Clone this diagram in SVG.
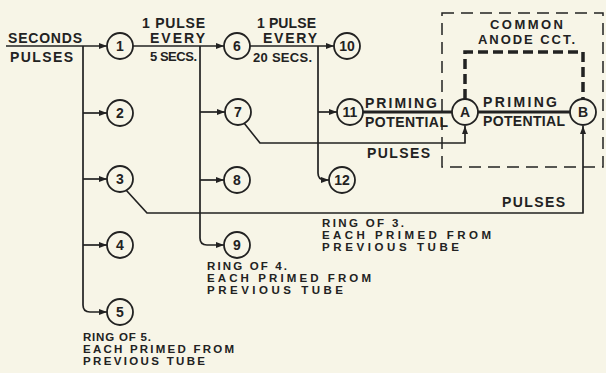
<svg xmlns="http://www.w3.org/2000/svg" width="606" height="373" viewBox="0 0 606 373">
<style>
.bg{fill:#f7f5e7}
.ln{fill:none;stroke:#222;stroke-width:1.7;stroke-linejoin:round}
.thick{fill:none;stroke:#222;stroke-width:3}
.tube{fill:#f7f5e7;stroke:#222;stroke-width:1.8}
.num{font-family:"Liberation Sans","DejaVu Sans",sans-serif;font-weight:bold;font-size:14px;fill:#222;text-anchor:middle}
.lbl{font-family:"Liberation Sans","DejaVu Sans",sans-serif;font-weight:bold;font-size:14px;fill:#222}
.md{font-size:13px}
.sm{font-size:11.5px}
.dash{fill:none;stroke:#222;stroke-width:1.5;stroke-dasharray:12 7}
.dashthick{fill:none;stroke:#222;stroke-width:3.5;stroke-dasharray:10 5}
</style>
<defs>
<marker id="arr" markerUnits="userSpaceOnUse" markerWidth="8" markerHeight="6" refX="8" refY="3" orient="auto">
<path d="M0,0 L8,3 L0,6 z" fill="#222"/>
</marker>
</defs>
<rect class="bg" x="0" y="0" width="606" height="373"/>

<g id="anode-box">
<rect class="dash" x="442" y="13" width="161" height="154"/>
<path class="dashthick" d="M465,99 V52 H583 V99"/>
<text class="lbl md" x="490" y="29" textLength="73" lengthAdjust="spacing">COMMON</text>
<text class="lbl md" x="478" y="44" textLength="97" lengthAdjust="spacing">ANODE CCT.</text>
</g>

<g id="connectors">
<path class="ln" d="M6,46 H107" marker-end="url(#arr)"/>
<path class="ln" d="M83,46 V305 Q83,312 90,312 H107" marker-end="url(#arr)"/>
<path class="ln" d="M83,113 H107" marker-end="url(#arr)"/>
<path class="ln" d="M83,179 H107" marker-end="url(#arr)"/>
<path class="ln" d="M83,245 H107" marker-end="url(#arr)"/>
<path class="ln" d="M133,46 H224" marker-end="url(#arr)"/>
<path class="ln" d="M200,46 V238 Q200,245 207,245 H224" marker-end="url(#arr)"/>
<path class="ln" d="M200,112 H225" marker-end="url(#arr)"/>
<path class="ln" d="M200,180 H224" marker-end="url(#arr)"/>
<path class="ln" d="M250,46 H334" marker-end="url(#arr)"/>
<path class="ln" d="M318,46 V173 Q318,180 325,180 H329" marker-end="url(#arr)"/>
<path class="ln" d="M318,112 H337" marker-end="url(#arr)"/>
<path class="thick" d="M363,112 H452"/>
<path class="thick" d="M478,112 H570"/>
<path class="ln" d="M244,123 L260,143 H465 V126" marker-end="url(#arr)"/>
<path class="ln" d="M126,190 L147,213 H583 V126" marker-end="url(#arr)"/>
</g>

<g id="labels">
<text class="lbl" x="8" y="43" textLength="74" lengthAdjust="spacing">SECONDS</text>
<text class="lbl" x="10" y="62" textLength="63" lengthAdjust="spacing">PULSES</text>
<text class="lbl" x="142" y="28" textLength="63" lengthAdjust="spacing">1 PULSE</text>
<text class="lbl" x="150" y="43" textLength="55" lengthAdjust="spacing">EVERY</text>
<text class="lbl md" x="150" y="61" textLength="47" lengthAdjust="spacing">5 SECS.</text>
<text class="lbl" x="257" y="28" textLength="59" lengthAdjust="spacing">1 PULSE</text>
<text class="lbl" x="263" y="43" textLength="54" lengthAdjust="spacing">EVERY</text>
<text class="lbl md" x="253" y="62" textLength="59" lengthAdjust="spacing">20 SECS.</text>
<text class="lbl" x="365" y="108" textLength="72" lengthAdjust="spacing">PRIMING</text>
<text class="lbl" x="365" y="127" textLength="83" lengthAdjust="spacing">POTENTIAL</text>
<text class="lbl" x="367" y="158" textLength="63" lengthAdjust="spacing">PULSES</text>
<text class="lbl" x="483" y="107" textLength="74" lengthAdjust="spacing">PRIMING</text>
<text class="lbl" x="483" y="126" textLength="82" lengthAdjust="spacing">POTENTIAL</text>
<text class="lbl" x="502" y="207" textLength="63" lengthAdjust="spacing">PULSES</text>
<text class="lbl sm" x="322" y="227" textLength="82" lengthAdjust="spacing">RING OF 3.</text>
<text class="lbl sm" x="322" y="239" textLength="169" lengthAdjust="spacing">EACH PRIMED FROM</text>
<text class="lbl sm" x="322" y="251" textLength="137" lengthAdjust="spacing">PREVIOUS TUBE</text>
<text class="lbl sm" x="207" y="270" textLength="80" lengthAdjust="spacing">RING OF 4.</text>
<text class="lbl sm" x="207" y="282" textLength="164" lengthAdjust="spacing">EACH PRIMED FROM</text>
<text class="lbl sm" x="207" y="294" textLength="136" lengthAdjust="spacing">PREVIOUS TUBE</text>
<text class="lbl sm" x="83" y="341" textLength="68" lengthAdjust="spacing">RING OF 5.</text>
<text class="lbl sm" x="83" y="353" textLength="151" lengthAdjust="spacing">EACH PRIMED FROM</text>
<text class="lbl sm" x="83" y="365" textLength="122" lengthAdjust="spacing">PREVIOUS TUBE</text>
</g>

<g id="tube-1"><circle class="tube" cx="120" cy="46" r="13"/><text class="num" x="120" y="51">1</text></g>
<g id="tube-2"><circle class="tube" cx="120" cy="113" r="13"/><text class="num" x="120" y="118">2</text></g>
<g id="tube-3"><circle class="tube" cx="120" cy="179" r="13"/><text class="num" x="120" y="184">3</text></g>
<g id="tube-4"><circle class="tube" cx="120" cy="245" r="13"/><text class="num" x="120" y="250">4</text></g>
<g id="tube-5"><circle class="tube" cx="120" cy="312" r="13"/><text class="num" x="120" y="317">5</text></g>
<g id="tube-6"><circle class="tube" cx="237" cy="46" r="13"/><text class="num" x="237" y="51">6</text></g>
<g id="tube-7"><circle class="tube" cx="238" cy="112" r="13"/><text class="num" x="238" y="117">7</text></g>
<g id="tube-8"><circle class="tube" cx="237" cy="180" r="13"/><text class="num" x="237" y="185">8</text></g>
<g id="tube-9"><circle class="tube" cx="237" cy="245" r="13"/><text class="num" x="237" y="250">9</text></g>
<g id="tube-10"><circle class="tube" cx="347" cy="46" r="13"/><text class="num" x="347" y="51">10</text></g>
<g id="tube-11"><circle class="tube" cx="350" cy="112" r="13"/><text class="num" x="350" y="117">11</text></g>
<g id="tube-12"><circle class="tube" cx="342" cy="180" r="13"/><text class="num" x="342" y="185">12</text></g>
<g id="tube-A"><circle class="tube" cx="465" cy="112" r="13"/><text class="num" x="465" y="117">A</text></g>
<g id="tube-B"><circle class="tube" cx="583" cy="112" r="13"/><text class="num" x="583" y="117">B</text></g>
</svg>
